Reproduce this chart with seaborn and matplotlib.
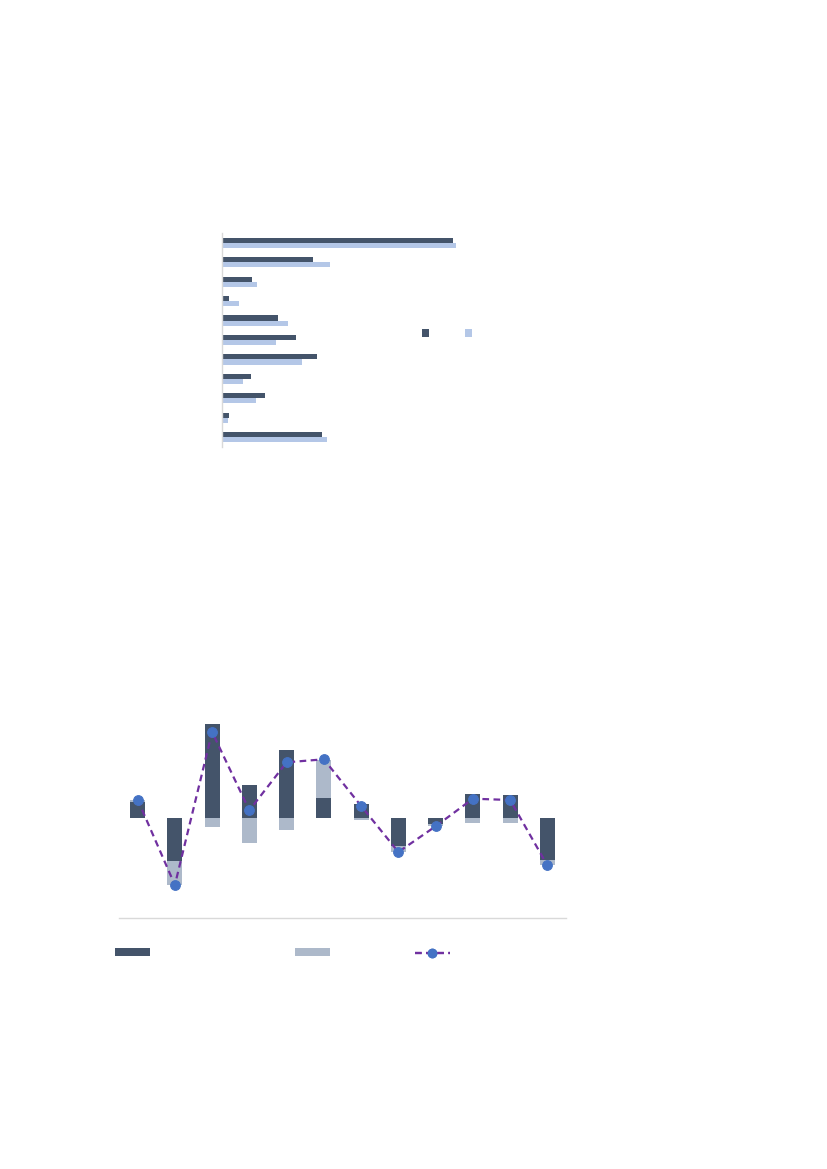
import numpy as np
import pandas as pd
import matplotlib
matplotlib.use("Agg")
import matplotlib.pyplot as plt
from matplotlib.patches import Patch
from matplotlib.lines import Line2D
import seaborn as sns

# top chart: two series, 11 categories (horizontal grouped bars)
top_cats = [f"t{i}" for i in range(1, 12)]
top_dark = [230.7, 91.0, 30.3, 7.3, 56.0, 74.0, 95.0, 29.0, 42.7, 6.7, 99.7]
top_light = [234.3, 107.7, 35.3, 17.0, 66.3, 54.3, 80.3, 21.0, 34.0, 6.0, 105.3]

# bottom chart: stacked contributions + total line, 12 categories
bot_cats = [f"b{i}" for i in range(1, 13)]
bot_dark = [16.0, -43.3, 94.4, 32.7, 67.7, 19.7, 13.7, -28.3, -6.3, 24.3, 22.7, -41.7]
bot_light = [2.0, -24.0, -8.6, -25.0, -12.3, 38.7, -2.0, -5.7, -2.0, -5.0, -5.0, -5.7]
bot_total = [18.4, -67.0, 86.0, 7.7, 55.7, 58.7, 12.0, -34.0, -8.3, 19.3, 18.0, -47.4]

DARK = "#44546A"
LIGHT_TOP = "#B4C7E7"
LIGHT_BOT = "#ADB9CA"
PURPLE = "#7030A0"
BLUE = "#4472C4"
GRID = "#D9D9D9"

sns.set_theme(style="white")
plt.rcParams["patch.linewidth"] = 0
plt.rcParams["patch.edgecolor"] = "none"
fig = plt.figure(figsize=(8.27, 11.69), dpi=100)

# ---- top chart ----
ax1 = fig.add_axes([222 / 827, 1 - 447 / 1169, 258 / 827, 214 / 1169])
df_top = pd.DataFrame({
    "cat": top_cats * 2,
    "val": top_dark + top_light,
    "series": ["a"] * 11 + ["b"] * 11,
})
sns.barplot(data=df_top, y="cat", x="val", hue="series", orient="h",
            palette={"a": DARK, "b": LIGHT_TOP}, width=0.52, gap=0,
            legend=False, ax=ax1, saturation=1, linewidth=0, edgecolor="none")
ax1.set_xlim(0, 258)
ax1.set_ylim(10.5, -0.5)
ax1.set_xlabel("")
ax1.set_ylabel("")
ax1.set_xticks([])
ax1.set_yticks([])
for s in ["top", "right", "bottom"]:
    ax1.spines[s].set_visible(False)
ax1.spines["left"].set_color(GRID)
ax1.spines["left"].set_linewidth(1)

fig.legend(handles=[Patch(facecolor=DARK, edgecolor="none"),
                    Patch(facecolor=LIGHT_TOP, edgecolor="none")],
           labels=["", ""], loc="center", bbox_to_anchor=(447 / 827, 1 - 334 / 1169),
           ncol=2, frameon=False, fontsize=10, handlelength=0.5, handleheight=0.5,
           handletextpad=0, columnspacing=2.65, borderpad=0)

# ---- bottom chart ----
ax2 = fig.add_axes([119 / 827, 1 - 918 / 1169, 447 / 827, 218 / 1169])
x = np.arange(len(bot_cats))
sns.barplot(x=bot_cats, y=bot_dark, color=DARK, width=0.4, saturation=1, ax=ax2,
            linewidth=0, edgecolor="none")
dark = np.array(bot_dark)
light = np.array(bot_light)
base = np.where(np.sign(dark) == np.sign(light), dark, 0)
ax2.bar(x, light, bottom=base, width=0.4, color=LIGHT_BOT, linewidth=0, zorder=1)
sns.lineplot(x=x, y=bot_total, color=PURPLE, linewidth=1.6, linestyle=(0, (3, 2)),
             marker="o", markersize=7, markerfacecolor=BLUE, markeredgecolor=BLUE,
             ax=ax2, zorder=3)
ax2.set_xlim(-0.5, 11.5)
ax2.set_ylim(-100, 118)
ax2.set_xticks([])
ax2.set_yticks([])
ax2.set_xlabel("")
ax2.set_ylabel("")
for s in ["top", "right", "left"]:
    ax2.spines[s].set_visible(False)
ax2.spines["bottom"].set_color(GRID)
ax2.spines["bottom"].set_linewidth(1)

# bottom legend: three separate entries
leg_kw = dict(frameon=False, fontsize=10, handletextpad=0, borderpad=0,
              borderaxespad=0, handlelength=2.52, handleheight=0.5)
items = [
    (Patch(facecolor=DARK, edgecolor="none"), 132.5),
    (Patch(facecolor=LIGHT_BOT, edgecolor="none"), 312.5),
    (Line2D([], [], color=PURPLE, linewidth=1.6, linestyle=(0, (3, 2)), marker="o",
            markersize=6, markerfacecolor=BLUE, markeredgecolor=BLUE), 432),
]
for h, cx in items:
    lg = fig.legend(handles=[h], labels=[""], loc="center",
                    bbox_to_anchor=(cx / 827, 1 - 953 / 1169), **leg_kw)
    fig.add_artist(lg)

fig.savefig("out.png", dpi=100)
